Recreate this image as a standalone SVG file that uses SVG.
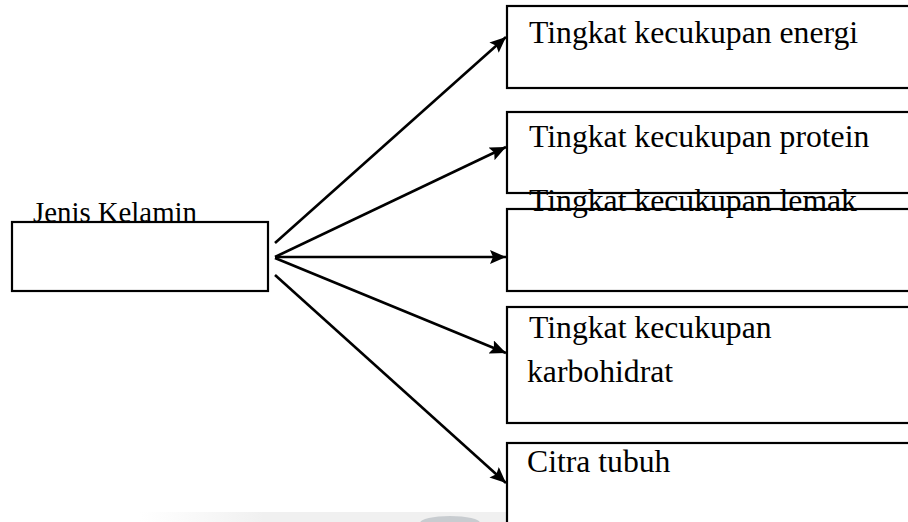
<svg xmlns="http://www.w3.org/2000/svg" width="908" height="522" viewBox="0 0 908 522">
<style>
.box{fill:#fff;stroke:#000;stroke-width:2.2}
.t{font-family:"Liberation Serif","Times New Roman",serif;font-size:31.7px;fill:#000}
.tl{font-family:"Liberation Serif","Times New Roman",serif;font-size:28.8px;fill:#000}
.c{stroke:#000;stroke-width:2.6;fill:none;marker-end:url(#ah)}
</style>
<defs>
<marker id="ah" markerUnits="userSpaceOnUse" markerWidth="17" markerHeight="14" refX="16" refY="7" orient="auto">
<path d="M0,0 L16,7 L0,14 L3,7 z" fill="#000"/>
</marker>
<linearGradient id="fade" x1="0" y1="0" x2="1" y2="0">
<stop offset="0" stop-color="#f2f2f2" stop-opacity="0"/>
<stop offset="0.2" stop-color="#f0f0f0"/>
<stop offset="0.8" stop-color="#f0f0f0"/>
<stop offset="1" stop-color="#f2f2f2" stop-opacity="0"/>
</linearGradient>
</defs>
<rect x="0" y="0" width="908" height="522" fill="#fff"/>
<rect x="140" y="512" width="620" height="10" fill="url(#fade)"/>
<ellipse cx="450" cy="523" rx="30" ry="7" fill="#c8ccd0"/>
<g id="node-jenis">
<rect class="box" x="12" y="222" width="256" height="69"/>
<text class="tl" x="33" y="222">Jenis Kelamin</text>
</g>
<g id="node-energi">
<rect class="box" x="507" y="6" width="420" height="82"/>
<text class="t" x="529" y="43">Tingkat kecukupan energi</text>
</g>
<g id="node-protein">
<rect class="box" x="507" y="112" width="420" height="81"/>
<text class="t" x="529" y="147">Tingkat kecukupan protein</text>
</g>
<g id="node-lemak">
<rect class="box" x="507" y="209" width="420" height="82"/>
<text class="t" x="529" y="211">Tingkat kecukupan lemak</text>
</g>
<g id="node-karbohidrat">
<rect class="box" x="507" y="307" width="420" height="116"/>
<text class="t" x="529" y="338">Tingkat kecukupan</text>
<text class="t" x="527" y="382">karbohidrat</text>
</g>
<g id="node-citra">
<rect class="box" x="507" y="443" width="420" height="100"/>
<text class="t" x="527" y="472">Citra tubuh</text>
</g>
<g id="connectors">
<line class="c" x1="275" y1="243" x2="506" y2="37"/>
<line class="c" x1="275" y1="257" x2="506" y2="147"/>
<line class="c" x1="275" y1="257" x2="506" y2="257"/>
<line class="c" x1="275" y1="258" x2="506" y2="353"/>
<line class="c" x1="275" y1="275" x2="506" y2="483"/>
</g>
</svg>
